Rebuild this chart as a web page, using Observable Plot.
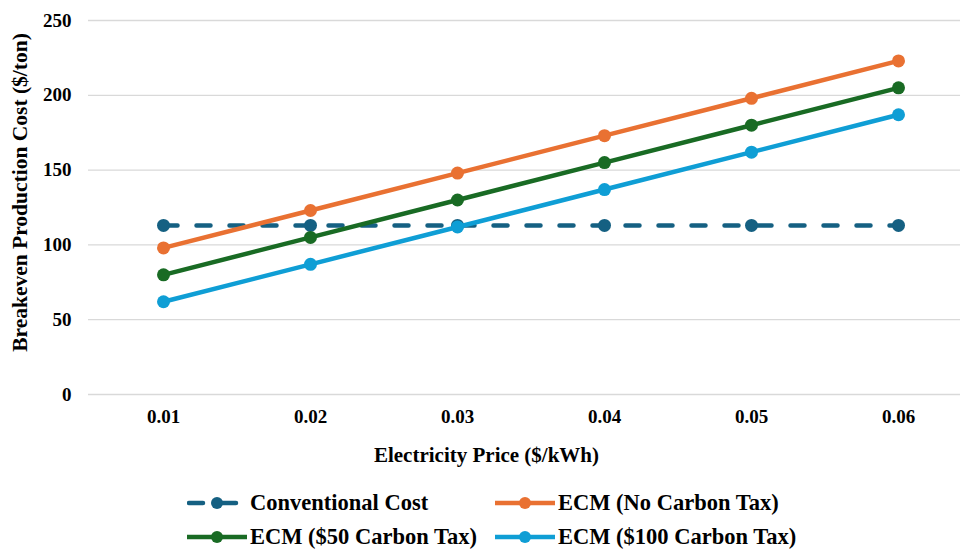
<!DOCTYPE html>
<html><head><meta charset="utf-8">
<script src="https://cdn.jsdelivr.net/npm/d3@7"></script>
<script src="https://cdn.jsdelivr.net/npm/@observablehq/plot@0.6"></script>
<style>
body{margin:0;background:#fff;font-family:"Liberation Serif","Times New Roman",serif;font-weight:bold;color:#000;}
#chart{width:960px;height:552px;position:relative;overflow:hidden;}
#chart svg{position:absolute;left:0;top:0;}
#chart svg g[aria-label$="tick label"], #chart svg g[aria-label$="tick label"] text{font-size:19px;}
#legend{position:absolute;left:187px;top:487px;display:grid;grid-template-columns:308px auto;row-gap:2px;font-size:22.5px;}
.item{display:flex;align-items:center;height:32px;white-space:nowrap;}
.item svg{position:static !important;margin-right:3px;}
</style></head><body><div id="chart"></div><script>
const prices = ["0.01","0.02","0.03","0.04","0.05","0.06"];
const conventional = [113,113,113,113,113,113];
const ecmNoTax = [98,123,148,173,198,223];
const ecm50 = [80,105,130,155,180,205];
const ecm100 = [62,87,112,137,162,187];
const seriesNames = ["Conventional Cost","ECM (No Carbon Tax)","ECM ($50 Carbon Tax)","ECM ($100 Carbon Tax)"];
const seriesValues = [conventional, ecmNoTax, ecm50, ecm100];
const colors = ["#156082","#E97132","#196B24","#0F9ED5"];
const yTicks = [0,50,100,150,200,250];
const yTitle = "Breakeven Production Cost ($/ton)";
const xTitle = "Electricity Price ($/kWh)";

const data = seriesNames.flatMap((s,i)=>prices.map((p,j)=>({series:s, price:p, value:seriesValues[i][j]})));
const bySeries = s => data.filter(d=>d.series===s);

const marks = [
  Plot.gridY(yTicks,{stroke:"#d9d9d9",strokeOpacity:1,strokeWidth:1.3})
];
seriesNames.forEach((s,i)=>{
  marks.push(Plot.line(bySeries(s),{x:"price",y:"value",stroke:colors[i],strokeWidth:4.5,
    strokeDasharray:i===0?"14,19":null,strokeLinecap:i===0?"round":"butt"}));
  marks.push(Plot.dot(bySeries(s),{x:"price",y:"value",fill:colors[i],r:6.5}));
});
marks.push(Plot.axisY(yTicks,{tickSize:0,tickPadding:17,label:null}));
marks.push(Plot.axisX({tickSize:0,tickPadding:15,label:null}));
marks.push(Plot.text([yTitle],{text:d=>d,frameAnchor:"left",textAnchor:"middle",lineAnchor:"middle",rotate:-90,dx:-68,dy:-15,fontSize:21.5,fontWeight:"bold",fill:"#000"}));
marks.push(Plot.text([xTitle],{text:d=>d,frameAnchor:"bottom",textAnchor:"middle",lineAnchor:"middle",dx:-38,dy:61,fontSize:21,fontWeight:"bold",fill:"#000"}));

const chart = Plot.plot({
  width:960,height:480,marginTop:20,marginBottom:86,marginLeft:88,marginRight:0,
  style:{fontFamily:"'Liberation Serif','Times New Roman',serif",fontWeight:"bold",fontSize:"19px",color:"#000",background:"#fff"},
  x:{type:"point",domain:prices,range:[88,972],padding:0.5},
  y:{domain:[0,250]},
  marks
});
document.getElementById("chart").appendChild(chart);

const legend = d3.select("#chart").append("div").attr("id","legend");
seriesNames.forEach((s,i)=>{
  const it = legend.append("div").attr("class","item");
  const w = 60;
  const sv = it.append("svg").attr("width",w).attr("height",16);
  sv.append("line").attr("x1",i===0?2:0).attr("x2",i===0?w-7:w).attr("y1",8).attr("y2",8)
    .attr("stroke",colors[i]).attr("stroke-width",4.5)
    .attr("stroke-dasharray",i===0?"14,19":null).attr("stroke-linecap",i===0?"round":"butt");
  sv.append("circle").attr("cx",w/2).attr("cy",8).attr("r",6).attr("fill",colors[i]);
  it.append("span").text(s);
});
</script></body></html>
